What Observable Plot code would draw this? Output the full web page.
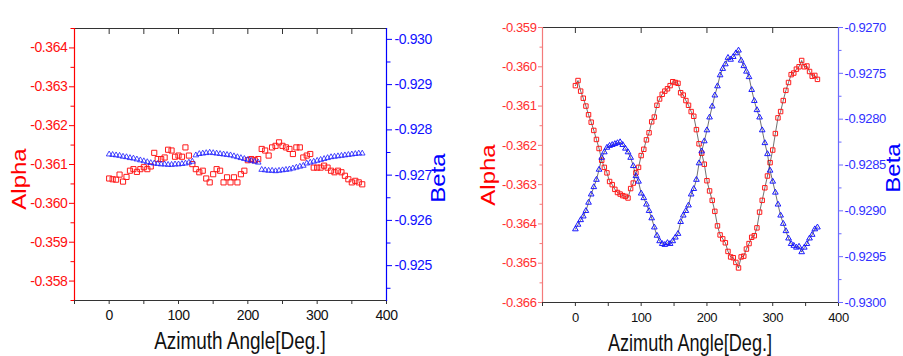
<!DOCTYPE html>
<html><head><meta charset="utf-8">
<script src="https://cdn.jsdelivr.net/npm/d3@7"></script>
<script src="https://cdn.jsdelivr.net/npm/@observablehq/plot@0.6"></script>
<style>
html,body{margin:0;padding:0;background:#fff;}
#root{position:relative;width:903px;height:356px;overflow:hidden;background:#fff;}
.panel{position:absolute;top:0;height:356px;}
.panel svg{position:absolute;top:0;left:0;}
#titles{position:absolute;left:0;top:0;pointer-events:none;}
</style></head><body>
<div id="root"></div>
<script>
// ---------- data ----------
const xTickValues = [0, 100, 200, 300, 400];
const xMinorValues = [-50, 50, 150, 250, 350];

// Left panel
const leftAngles = [0,5,10,15,20,25,30,35,40,45,50,55,60,65,70,75,80,85,90,95,100,105,110,115,120,125,130,135,140,145,150,155,160,165,170,175,180,185,190,195,200,205,210,215,220,225,230,235,240,245,250,255,260,265,270,275,280,285,290,295,300,305,310,315,320,325,330,335,340,345,350,355,360,365];
const leftAlpha = [-0.36064,-0.36062,-0.36061,-0.36074,-0.36056,-0.36068,-0.36084,-0.36088,-0.36081,-0.36088,-0.36093,-0.36088,-0.36095,-0.36130,-0.36114,-0.36114,-0.36118,-0.36138,-0.36136,-0.36120,-0.36123,-0.36120,-0.36144,-0.36123,-0.36101,-0.36088,-0.36080,-0.36084,-0.36064,-0.36054,-0.36075,-0.36088,-0.36084,-0.36054,-0.36067,-0.36054,-0.36067,-0.36054,-0.36075,-0.36084,-0.36111,-0.36114,-0.36111,-0.36114,-0.36140,-0.36136,-0.36123,-0.36144,-0.36148,-0.36157,-0.36148,-0.36144,-0.36140,-0.36127,-0.36144,-0.36144,-0.36118,-0.36123,-0.36127,-0.36092,-0.36092,-0.36092,-0.36097,-0.36092,-0.36084,-0.36080,-0.36084,-0.36080,-0.36071,-0.36062,-0.36054,-0.36058,-0.36054,-0.36049];
const leftBeta = [-0.92746,-0.92745,-0.92744,-0.92743,-0.92741,-0.92740,-0.92738,-0.92737,-0.92735,-0.92733,-0.92731,-0.92729,-0.92727,-0.92726,-0.92725,-0.92724,-0.92724,-0.92723,-0.92723,-0.92724,-0.92724,-0.92725,-0.92726,-0.92728,-0.92730,-0.92744,-0.92747,-0.92748,-0.92749,-0.92750,-0.92749,-0.92748,-0.92747,-0.92746,-0.92745,-0.92744,-0.92742,-0.92740,-0.92738,-0.92736,-0.92734,-0.92732,-0.92730,-0.92728,-0.92712,-0.92711,-0.92710,-0.92710,-0.92709,-0.92710,-0.92711,-0.92712,-0.92713,-0.92715,-0.92717,-0.92719,-0.92721,-0.92726,-0.92728,-0.92730,-0.92732,-0.92734,-0.92736,-0.92738,-0.92740,-0.92741,-0.92742,-0.92743,-0.92744,-0.92745,-0.92746,-0.92747,-0.92748,-0.92748];
const leftAlphaTicks = [-0.364,-0.363,-0.362,-0.361,-0.360,-0.359,-0.358];
const leftAlphaMinor = [-0.3645,-0.3635,-0.3625,-0.3615,-0.3605,-0.3595,-0.3585,-0.3575];
const leftBetaTicks = [-0.930,-0.929,-0.928,-0.927,-0.926,-0.925];
const leftBetaMinor = [-0.9295,-0.9285,-0.9275,-0.9265,-0.9255,-0.9245];

// Right panel
const rightAngles = [0,4,8,12,16,20,24,28,32,36,40,44,48,52,56,60,64,68,72,76,80,84,88,92,96,100,104,108,112,116,120,124,128,132,136,140,144,148,152,156,160,164,168,172,176,180,184,188,192,196,200,204,208,212,216,220,224,228,232,236,240,244,248,252,256,260,264,268,272,276,280,284,288,292,296,300,304,308,312,316,320,324,328,332,336,340,344,348,352,356,360,364,368];
const rightAlpha = [-0.36048,-0.36035,-0.36062,-0.36080,-0.36100,-0.36122,-0.36141,-0.36162,-0.36185,-0.36208,-0.36238,-0.36256,-0.36270,-0.36292,-0.36300,-0.36312,-0.36320,-0.36324,-0.36328,-0.36330,-0.36334,-0.36310,-0.36296,-0.36270,-0.36256,-0.36226,-0.36210,-0.36186,-0.36168,-0.36140,-0.36128,-0.36098,-0.36082,-0.36070,-0.36062,-0.36056,-0.36048,-0.36038,-0.36040,-0.36042,-0.36066,-0.36072,-0.36086,-0.36098,-0.36114,-0.36126,-0.36160,-0.36196,-0.36220,-0.36248,-0.36290,-0.36316,-0.36340,-0.36368,-0.36405,-0.36428,-0.36438,-0.36448,-0.36470,-0.36484,-0.36486,-0.36498,-0.36512,-0.36484,-0.36482,-0.36464,-0.36450,-0.36434,-0.36430,-0.36410,-0.36370,-0.36340,-0.36308,-0.36278,-0.36244,-0.36212,-0.36170,-0.36130,-0.36114,-0.36086,-0.36060,-0.36040,-0.36020,-0.36016,-0.36006,-0.36000,-0.35984,-0.36000,-0.35998,-0.36012,-0.36024,-0.36022,-0.36032];
const rightBeta = [-0.92920,-0.92915,-0.92910,-0.92906,-0.92900,-0.92891,-0.92882,-0.92874,-0.92866,-0.92855,-0.92842,-0.92836,-0.92831,-0.92829,-0.92828,-0.92827,-0.92826,-0.92825,-0.92828,-0.92832,-0.92836,-0.92842,-0.92851,-0.92862,-0.92868,-0.92881,-0.92886,-0.92893,-0.92900,-0.92908,-0.92918,-0.92927,-0.92933,-0.92936,-0.92937,-0.92935,-0.92936,-0.92933,-0.92929,-0.92925,-0.92912,-0.92905,-0.92900,-0.92894,-0.92882,-0.92876,-0.92866,-0.92848,-0.92835,-0.92824,-0.92812,-0.92798,-0.92786,-0.92774,-0.92764,-0.92752,-0.92745,-0.92740,-0.92733,-0.92735,-0.92732,-0.92728,-0.92725,-0.92736,-0.92742,-0.92748,-0.92754,-0.92768,-0.92780,-0.92790,-0.92798,-0.92812,-0.92826,-0.92838,-0.92856,-0.92868,-0.92880,-0.92893,-0.92905,-0.92914,-0.92922,-0.92930,-0.92936,-0.92938,-0.92940,-0.92939,-0.92945,-0.92940,-0.92936,-0.92930,-0.92926,-0.92920,-0.92918];
const rightAlphaTicks = [-0.366,-0.365,-0.364,-0.363,-0.362,-0.361,-0.360,-0.359];
const rightAlphaMinor = [-0.3655,-0.3645,-0.3635,-0.3625,-0.3615,-0.3605,-0.3595];
const rightBetaTicks = [-0.9300,-0.9295,-0.9290,-0.9285,-0.9280,-0.9275,-0.9270];
const rightBetaMinor = [-0.92975,-0.92925,-0.92875,-0.92825,-0.92775,-0.92725];

const xTitle = "Azimuth Angle[Deg.]";
const alphaTitle = "Alpha";
const betaTitle = "Beta";

// ---------- drawing ----------
const FONT = '"Liberation Sans Narrow","Arial Narrow","Liberation Sans",Arial,sans-serif';
const root = document.getElementById("root");

function panel(cfg) {
  const rows = cfg.angles.map((a, i) => ({angle: a, alpha: cfg.alpha[i], beta: cfg.beta[i]}));
  const common = {
    width: cfg.width, height: 356,
    marginLeft: cfg.ml, marginRight: cfg.mr, marginTop: cfg.mt, marginBottom: cfg.mb,
    style: {background: "transparent", fontFamily: FONT, overflow: "visible", letterSpacing: "-0.4px"}
  };
  const none = () => "";
  const pa = Plot.plot({
    ...common,
    x: {domain: [-50, 400]},
    y: {domain: cfg.alphaDomain},
    marks: [
      Plot.frame({anchor: "top", stroke: "#333", strokeWidth: 1.2}),
      Plot.frame({anchor: "bottom", stroke: "#333", strokeWidth: 1.2}),
      Plot.frame({anchor: "left", stroke: cfg.redAxis, strokeWidth: 1.2}),
      Plot.axisX(xTickValues, {anchor: "bottom", tickSize: 4, tickPadding: 6, fontSize: cfg.fs, stroke: "#333", fill: "#111", label: null, tickFormat: d => String(d)}),
      Plot.axisX(xMinorValues, {anchor: "bottom", tickSize: 4, stroke: "#333", label: null, tickFormat: none}),
      Plot.axisX(cfg.topTicks, {anchor: "top", tickSize: -5, stroke: "#333", label: null, tickFormat: none}),
      Plot.axisY(cfg.alphaTicks, {anchor: "left", tickSize: cfg.tsA, tickPadding: cfg.tpA, fontSize: cfg.fs, stroke: cfg.redAxis, fill: cfg.redText, label: null, tickFormat: d => d.toFixed(3)}),
      Plot.axisY(cfg.alphaMinor, {anchor: "left", tickSize: cfg.tsA - 1.5, stroke: cfg.redAxis, label: null, tickFormat: none}),
      cfg.line ? Plot.line(rows, {x: "angle", y: "alpha", stroke: "#333", strokeWidth: 0.7}) : null,
      Plot.dot(rows, {x: "angle", y: "alpha", symbol: "square", r: cfg.rSq, stroke: "#ff1a1a", fill: "none", strokeWidth: 1})
    ]
  });
  const pb = Plot.plot({
    ...common,
    x: {domain: [-50, 400], axis: null},
    y: {domain: cfg.betaDomain},
    marks: [
      Plot.frame({anchor: "right", stroke: cfg.blueAxis, strokeWidth: 1.2}),
      Plot.axisY(cfg.betaTicks, {anchor: "right", tickSize: cfg.tsB, tickPadding: cfg.tpB, fontSize: cfg.fs, stroke: cfg.blueAxis, fill: cfg.blueText, label: null, tickFormat: d => d.toFixed(cfg.betaDigits)}),
      Plot.axisY(cfg.betaMinor, {anchor: "right", tickSize: cfg.tsB - 1.5, stroke: cfg.blueAxis, label: null, tickFormat: none}),
      cfg.line ? Plot.line(rows, {x: "angle", y: "beta", stroke: "#333", strokeWidth: 0.7}) : null,
      Plot.dot(rows, {x: "angle", y: "beta", symbol: "triangle", r: cfg.rTri, stroke: "#1a1aff", fill: "none", strokeWidth: cfg.triW})
    ]
  });
  const div = document.createElement("div");
  div.className = "panel";
  div.style.left = cfg.left + "px";
  div.style.width = cfg.width + "px";
  div.appendChild(pa);
  div.appendChild(pb);
  root.appendChild(div);
}

panel({
  left: 0, width: 451, ml: 74, mr: 65, mt: 28, mb: 56,
  angles: leftAngles, alpha: leftAlpha, beta: leftBeta,
  alphaDomain: [-0.3575, -0.3645], betaDomain: [-0.92423, -0.93024],
  alphaTicks: leftAlphaTicks, alphaMinor: leftAlphaMinor,
  betaTicks: leftBetaTicks, betaMinor: leftBetaMinor, betaDigits: 3,
  topTicks: [0, 50, 100, 150, 200, 250, 300, 350],
  fs: 14, tsA: 5, tpA: 2, tsB: 5, tpB: 3,
  redAxis: "#ff0000", redText: "#ff1010", blueAxis: "#0000ff", blueText: "#1010ff",
  rSq: 2.9, rTri: 2.1, triW: 0.8, line: false
});
panel({
  left: 451, width: 452, ml: 91, mr: 65, mt: 27, mb: 54,
  angles: rightAngles, alpha: rightAlpha, beta: rightBeta,
  alphaDomain: [-0.366, -0.359], betaDomain: [-0.9300, -0.9270],
  alphaTicks: rightAlphaTicks, alphaMinor: rightAlphaMinor,
  betaTicks: rightBetaTicks, betaMinor: rightBetaMinor, betaDigits: 4,
  topTicks: [0, 100, 200, 300],
  fs: 13, tsA: 4, tpA: 2, tsB: 4, tpB: 2,
  redAxis: "#f47a7a", redText: "#ff3030", blueAxis: "#6a6aff", blueText: "#3030ff",
  rSq: 2.5, rTri: 2.1, triW: 1, line: true
});

// axis titles
const svg = d3.create("svg").attr("id", "titles").attr("width", 903).attr("height", 356)
  .style("font-family", '"Liberation Sans",Arial,sans-serif');
function title(txt, x, y, size, color, rotate, sx) {
  svg.append("text")
    .attr("transform", `translate(${x},${y}) scale(${sx},1)` + (rotate ? " rotate(-90)" : ""))
    .attr("text-anchor", "middle")
    .attr("dominant-baseline", rotate ? "central" : "auto")
    .attr("font-size", size).attr("fill", color).text(txt);
}
title(xTitle, 240, 349, 24, "#111", false, 0.79);
title(xTitle, 690, 351, 24, "#111", false, 0.755);
title(alphaTitle, 19, 179, 24, "#ff0000", true, 0.82);
title(betaTitle, 438, 178, 24, "#0000ff", true, 0.82);
title(alphaTitle, 488, 175, 24, "#ff0000", true, 0.82);
title(betaTitle, 893, 168, 24, "#0000ff", true, 0.82);
root.appendChild(svg.node());
</script>
</body></html>
